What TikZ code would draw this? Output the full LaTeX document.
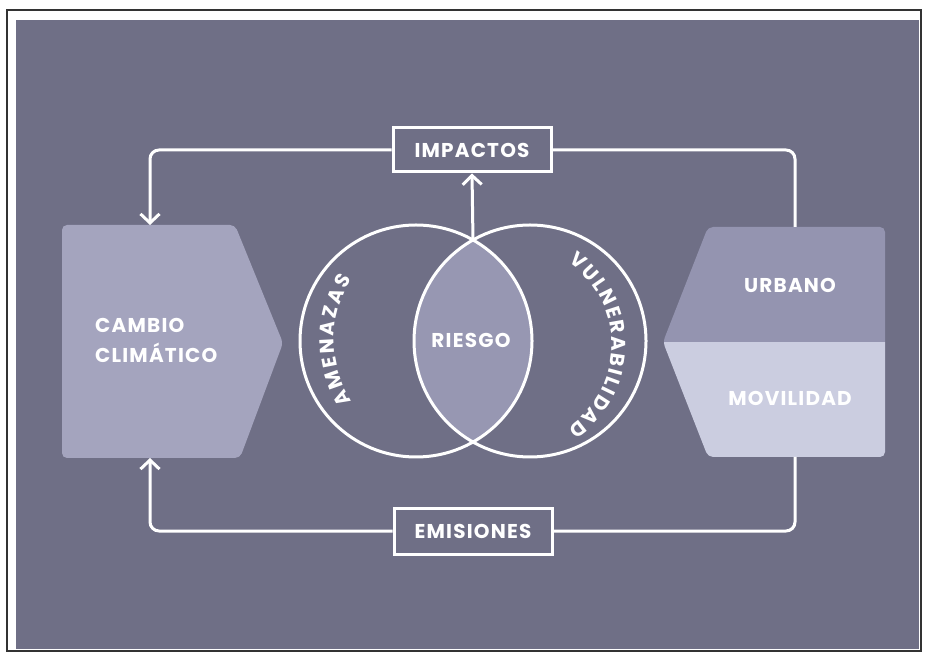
\documentclass[tikz,border=0pt]{standalone}
\usepackage{fontspec}
\usepackage{tikz}
\usetikzlibrary{arrows.meta, positioning, decorations.text}

\newfontfamily\diagfont{Poppins}[LetterSpace=6]
\definecolor{bgpurple}{HTML}{6F6F86}
\definecolor{cclav}{HTML}{A4A4BE}
\definecolor{urbfill}{HTML}{9494B0}
\definecolor{movfill}{HTML}{CBCDE0}
\definecolor{lensfill}{HTML}{9797B2}

\begin{document}
\begin{tikzpicture}[
        x=1pt, y=1pt,
        lbl/.style={text=white, inner sep=0pt, font=\diagfont\bfseries\fontsize{20}{30}\selectfont},
        tagbox/.style={draw=white, line width=3pt, fill=bgpurple, minimum width=158pt, minimum height=44pt, lbl},
        ring/.style={draw=white, line width=3pt, circle, minimum size=232pt, inner sep=0pt},
        loopline/.style={draw=white, line width=3pt, rounded corners=9pt},
        barb/.style={-{Straight Barb[length=9pt, width=19pt]}},
        arctext/.style={decorate, decoration={text along path, text color=white, text align=fit to path,
            text={|\diagfont\bfseries\fontsize{20}{20}\selectfont|#1}}}
    ]
        \useasboundingbox (0,0) rectangle (925,653);

        % Page and frame
        \fill[white] (0,0) rectangle (925,653);
        \draw[black!80, line width=1.5pt] (7,2) rectangle (921,643);
        \fill[bgpurple] (16,4) rectangle (919,633);

        % Cambio climatico block
        \fill[cclav, rounded corners=5pt] (62,428) -- (235,428) -- (283,310) -- (240,195) -- (62,195) -- cycle;
        \node[lbl, align=left, anchor=west] (cambio) at (95,313) {CAMBIO\\CLIMÁTICO};

        % Urbano / movilidad block
        \begin{scope}
            \clip[rounded corners=5pt] (708,426) -- (885,426) -- (885,196) -- (708,196) -- (663,311) -- cycle;
            \fill[urbfill] (660,311) rectangle (890,430);
            \fill[movfill] (660,192) rectangle (890,311);
        \end{scope}
        \node[lbl] (urbano) at (790,368) {URBANO};
        \node[lbl] (movilidad) at (790,255) {MOVILIDAD};

        % Venn circles
        \begin{scope}
            \clip (416,312) circle (116);
            \fill[lensfill] (530,312) circle (116);
        \end{scope}
        \node[ring] (amenazas) at (416,312) {};
        \node[ring] (vulnerab) at (530,312) {};
        \node[lbl] (riesgo) at (471,313) {RIESGO};
        \path[arctext=AMENAZAS] (446,313) ++(213:112) arc[start angle=213, end angle=147, radius=112];
        \path[arctext=VULNERABILIDAD] (512,308) ++(56:100) arc[start angle=56, end angle=-56, radius=100];

        % Tags
        \node[tagbox] (impactos) at (472,503) {IMPACTOS};
        \node[tagbox, minimum height=46pt] (emisiones) at (473,122) {EMISIONES};

        % Ends of the loop
        \coordinate (lenstop) at (473,412.7);
        \coordinate (cctop) at (150,428);
        \coordinate (ccbot) at (150,195);
        \coordinate (mobtop) at (795,426);
        \coordinate (mobbot) at (795,196);

        % Loop connectors
        \draw[loopline, barb] (lenstop) -- (impactos.south);
        \draw[loopline, barb] (impactos.west) -| (cctop);
        \draw[loopline] (impactos.east) -| (mobtop);
        \draw[loopline, barb] (emisiones.west) -| (ccbot);
        \draw[loopline] (emisiones.east) -| (mobbot);

    \end{tikzpicture}
\end{document}
